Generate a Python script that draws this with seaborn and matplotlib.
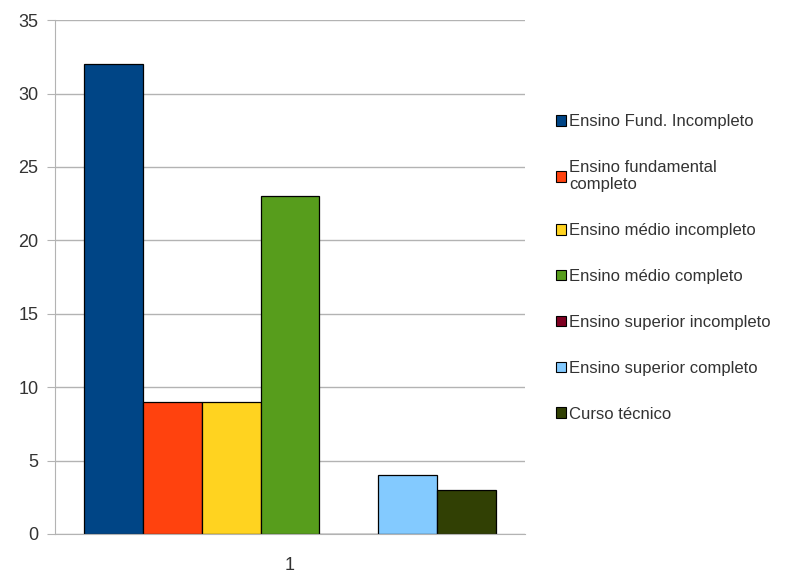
import numpy as np
import pandas as pd
import seaborn as sns
import matplotlib.pyplot as plt
from matplotlib.patches import Patch

sns.set_style("white")
plt.rcParams['font.family'] = ['Liberation Sans', 'DejaVu Sans']

# data
categorias = ["Ensino Fund. Incompleto",
              "Ensino fundamental\ncompleto",
              "Ensino médio incompleto",
              "Ensino médio completo",
              "Ensino superior incompleto",
              "Ensino superior completo",
              "Curso técnico"]
valores = [32, 9, 9, 23, 0, 4, 3]
grupo = ["1"] * len(categorias)
cores = ["#004586", "#ff420e", "#ffd320", "#579d1c",
         "#7e0021", "#83caff", "#314004"]

df = pd.DataFrame({"grupo": grupo, "categoria": categorias, "valor": valores})

fig = plt.figure(figsize=(8, 5.76), dpi=100)
ax = fig.add_axes([0.069, 0.073, 0.587, 0.892])

sns.barplot(data=df, x="grupo", y="valor", hue="categoria",
            hue_order=categorias, palette=cores, width=0.877,
            edgecolor="black", linewidth=0.9, saturation=1,
            legend=False, ax=ax)

ax.set_ylim(0, 35)
ax.set_yticks(np.arange(0, 36, 5))
ax.yaxis.grid(True, color="#b3b3b3", linewidth=1)
ax.set_axisbelow(True)
ax.set_xlabel("")
ax.set_ylabel("")
for s in ["top", "right"]:
    ax.spines[s].set_visible(False)
ax.spines["left"].set_color("#b3b3b3")
ax.spines["bottom"].set_color("#b3b3b3")
ax.tick_params(axis="y", left=True, length=6, color="#b3b3b3",
               labelsize=13, labelcolor="#333333", pad=6)
ax.tick_params(axis="x", bottom=False, labelsize=13,
               labelcolor="#333333", pad=13)

handles = [Patch(facecolor=c, edgecolor="black", linewidth=0.8) for c in cores]
fig.legend(handles, categorias, loc="center left",
           bbox_to_anchor=(0.676, 0.535), frameon=False,
           fontsize=12, labelcolor="#333333", handlelength=0.6,
           handleheight=0.6, handletextpad=0.2, labelspacing=1.85)

fig.savefig("out.png", dpi=100)
